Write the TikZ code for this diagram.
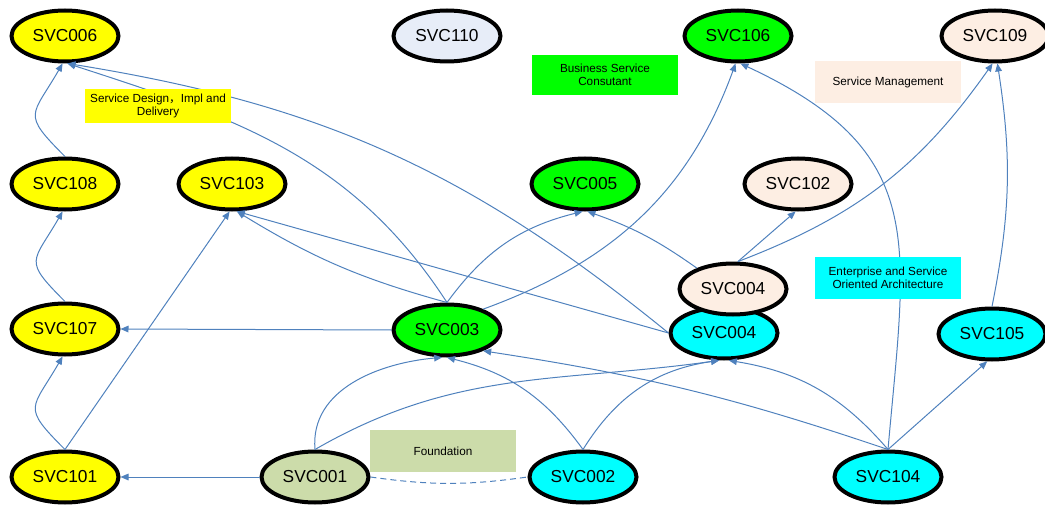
\documentclass[tikz,border=0pt]{standalone}
\usepackage{fontspec}
\setmainfont{Liberation Sans}
\newfontfamily\cjk{Noto Sans CJK SC}
\usetikzlibrary{shapes.geometric,arrows.meta}
\definecolor{edgeblue}{RGB}{79,129,189}
\definecolor{svcyellow}{RGB}{255,255,0}
\definecolor{svcgreen}{RGB}{0,255,0}
\definecolor{svccyan}{RGB}{0,255,255}
\definecolor{svcpeach}{RGB}{253,238,227}
\definecolor{svcgrey}{RGB}{231,237,248}
\definecolor{svcolive}{RGB}{204,220,170}
\tikzset{
        svc/.style={ellipse, draw=black, line width=3pt, minimum width=80.25pt, minimum height=38.25pt, inner sep=0pt, font=\fontsize{13}{15}\selectfont},
        area/.style={rectangle, minimum width=109.5pt, minimum height=31.5pt, inner sep=0pt, align=center, font=\fontsize{8.8}{10.2}\selectfont},
        dep/.style={draw=edgeblue, line width=0.75pt, -{Triangle[length=6pt,width=5pt]}},
}

\begin{document}
\begin{tikzpicture}[x=0.75pt, y=0.75pt]
        \useasboundingbox (0, 0) rectangle (1045, -506);
        \node[svc, fill=svcyellow] at (65, -36) (S006) {SVC006};
        \node[svc, fill=svcgrey] at (447, -36) (S110) {SVC110};
        \node[svc, fill=svcgreen] at (738, -36) (S106) {SVC106};
        \node[svc, fill=svcpeach] at (995, -36) (S109) {SVC109};
        \node[svc, fill=svcyellow] at (65, -184) (S108) {SVC108};
        \node[svc, fill=svcyellow] at (232, -184) (S103) {SVC103};
        \node[svc, fill=svcgreen] at (585, -184) (S005) {SVC005};
        \node[svc, fill=svcpeach] at (798, -184) (S102) {SVC102};
        \node[svc, fill=svcyellow] at (65, -329) (S107) {SVC107};
        \node[svc, fill=svcgreen] at (447, -330) (S003) {SVC003};
        \node[svc, fill=svccyan] at (724, -333) (S004b) {SVC004};
        \node[svc, fill=svcpeach] at (733, -289) (S004a) {SVC004};
        \node[svc, fill=svccyan] at (992, -334) (S105) {SVC105};
        \node[svc, fill=svcyellow] at (65, -477) (S101) {SVC101};
        \node[svc, fill=svcolive] at (315, -477) (S001) {SVC001};
        \node[svc, fill=svccyan] at (583, -477) (S002) {SVC002};
        \node[svc, fill=svccyan] at (888, -477) (S104) {SVC104};
        \draw[dep] (S108.north) to[out=135, in=-120, looseness=1.7] (S006.-95);
        \draw[dep] (S107.north) to[out=135, in=-120, looseness=1.7] (S108.-95);
        \draw[dep] (S101.north) to[out=135, in=-120, looseness=1.7] (S107.-95);
        \draw[dep] (S101.north) -- (S103.-95);
        \draw[dep] (S001.west) -- (S101.east);
        \draw[dep] (S003.west) -- (S107.east);
        \draw[dep] (S003.north) to[out=123, in=-18] (S006.-85);
        \draw[dep] (S004b.west) to[bend right=15] (S006.-85);
        \draw[dep] (S004b.west) -- (S103.-80);
        \draw[dep] (S003.north) to[bend left=8] (S103.-80);
        \draw[dep] (S003.north) to[bend left=20] (S005.-95);
        \draw[dep] (S003.30) to[out=20, in=-110] (S106.-95);
        \draw[dep] (S104.north) to[out=85, in=-25, looseness=1.3] (S106.-85);
        \draw[dep] (S004a.150) to[bend right=8] (S005.-85);
        \draw[dep] (S004a.80) -- (S102.-95);
        \draw[dep] (S004a.80) to[bend right=17] (S109.-95);
        \draw[dep] (S105.north) to[bend right=10] (S109.-85);
        \draw[dep] (S104.north) -- (S105.-100);
        \draw[dep] (S104.north) to[bend right=20] (S004b.-80);
        \draw[dep] (S104.north) to[bend right=5] (S003.-30);
        \draw[dep] (S002.north) to[bend right=20] (S003.-90);
        \draw[dep] (S002.north) to[bend left=25] (S004b.-100);
        \draw[dep] (S001.north) to[out=95, in=185] (S003.-100);
        \draw[dep] (S001.north) to[out=30, in=188] (S004b.-100);
        \draw[draw=edgeblue, line width=0.75pt, dash pattern=on 4.5pt off 3pt] (S001.east) to[bend right=8] (S002.west);
        \node[area, fill=svcyellow, minimum height=25.5pt] at (158, -106) (Ldesign) {Service Design{\cjk ，}Impl and\\Delivery};
        \node[area, fill=svcgreen, minimum height=30pt] at (605, -75) (Lbusiness) {Business Service\\Consutant};
        \node[area, fill=svcpeach] at (888, -82) (Lmanage) {Service Management};
        \node[area, fill=svccyan] at (888, -278) (Larch) {Enterprise and Service\\Oriented Architecture};
        \node[area, fill=svcolive] at (443, -451) (Lfound) {Foundation};
\end{tikzpicture}
\end{document}
